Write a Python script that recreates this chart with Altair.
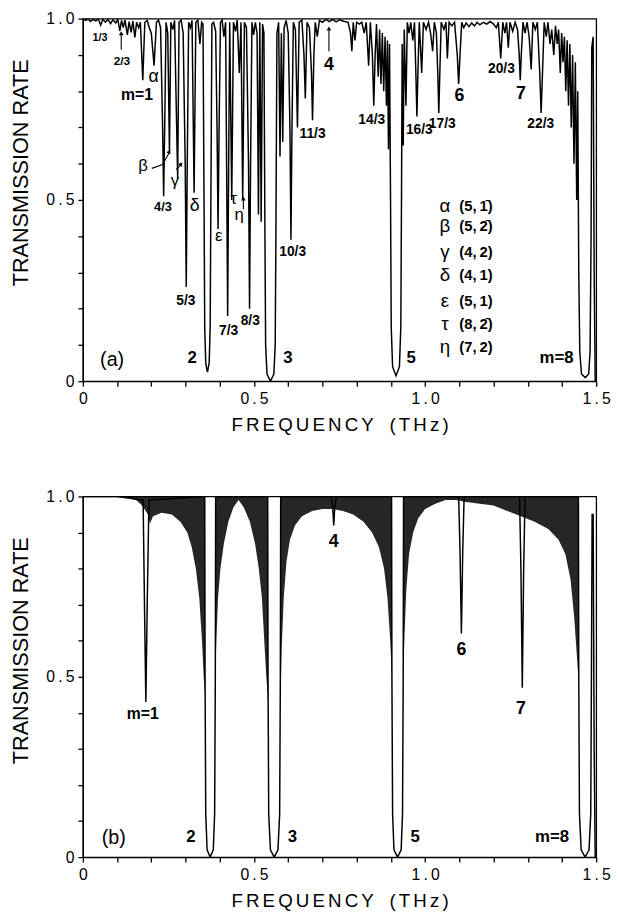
import altair as alt
import pandas as pd

# ---------------- panel (a): transmission spectrum (frequency THz, rate) -------------
fa = [0.000, 0.008, 0.015, 0.022, 0.030, 0.038, 0.045, 0.052, 0.058, 0.066, 0.073, 0.081, 0.088, 0.096,
      0.102, 0.108, 0.113, 0.118, 0.123, 0.130, 0.135, 0.141, 0.146, 0.152, 0.157, 0.163, 0.168, 0.175,
      0.181, 0.188, 0.194, 0.200, 0.208, 0.215, 0.221, 0.227, 0.233, 0.236, 0.239, 0.243, 0.248, 0.253,
      0.257, 0.263, 0.268, 0.274, 0.277, 0.281, 0.287, 0.293, 0.299, 0.302, 0.305, 0.309, 0.314, 0.319,
      0.325, 0.330, 0.336, 0.342, 0.347, 0.351, 0.354, 0.356, 0.359, 0.364, 0.369, 0.372, 0.374, 0.377,
      0.382, 0.388, 0.392, 0.395, 0.398, 0.402, 0.407, 0.412, 0.417, 0.420, 0.423, 0.426, 0.429, 0.435,
      0.440, 0.446, 0.451, 0.457, 0.462, 0.467, 0.472, 0.478, 0.484, 0.487, 0.490, 0.494, 0.499, 0.504,
      0.509, 0.513, 0.517, 0.521, 0.525, 0.529, 0.532, 0.534, 0.538, 0.548, 0.558, 0.562, 0.564, 0.567,
      0.572, 0.576, 0.580, 0.584, 0.588, 0.594, 0.600, 0.605, 0.608, 0.611, 0.615, 0.621, 0.627, 0.632,
      0.640, 0.646, 0.650, 0.655, 0.662, 0.668, 0.671, 0.675, 0.679, 0.685, 0.691, 0.700, 0.710, 0.720,
      0.730, 0.740, 0.750, 0.762, 0.775, 0.782, 0.786, 0.790, 0.795, 0.800, 0.808, 0.815, 0.822, 0.828,
      0.835, 0.840, 0.846, 0.850, 0.854, 0.858, 0.863, 0.867, 0.871, 0.875, 0.879, 0.883, 0.887, 0.890,
      0.893, 0.896, 0.899, 0.901, 0.905, 0.915, 0.925, 0.929, 0.931, 0.933, 0.936, 0.939, 0.944, 0.948,
      0.953, 0.958, 0.964, 0.969, 0.973, 0.976, 0.979, 0.983, 0.990, 0.995, 1.003, 1.010, 1.016, 1.022,
      1.027, 1.033, 1.037, 1.040, 1.043, 1.047, 1.055, 1.061, 1.065, 1.070, 1.078, 1.086, 1.094, 1.098,
      1.102, 1.107, 1.113, 1.120, 1.128, 1.136, 1.144, 1.152, 1.160, 1.170, 1.180, 1.190, 1.200, 1.208,
      1.214, 1.221, 1.227, 1.233, 1.238, 1.243, 1.248, 1.256, 1.263, 1.270, 1.275, 1.278, 1.281, 1.286,
      1.292, 1.298, 1.304, 1.310, 1.315, 1.322, 1.328, 1.335, 1.339, 1.343, 1.348, 1.354, 1.359, 1.365,
      1.370, 1.376, 1.381, 1.386, 1.390, 1.395, 1.399, 1.403, 1.407, 1.411, 1.415, 1.419, 1.423, 1.427,
      1.431, 1.435, 1.439, 1.443, 1.446, 1.449, 1.452, 1.457, 1.468, 1.478, 1.482, 1.485, 1.487, 1.491,
      1.494, 1.497, 1.500]
ta = [1.000, 0.995, 0.999, 0.992, 0.998, 0.994, 0.999, 0.982, 0.998, 0.990, 0.998, 0.986, 0.997, 0.988,
      0.998, 0.966, 0.995, 0.975, 0.996, 0.955, 0.992, 0.962, 0.993, 0.948, 0.990, 0.975, 0.990, 0.830,
      0.990, 0.995, 0.975, 0.960, 0.870, 0.990, 0.996, 0.975, 0.700, 0.510, 0.700, 0.990, 0.960, 0.630,
      0.990, 0.970, 0.995, 0.700, 0.560, 0.990, 0.996, 0.960, 0.600, 0.260, 0.600, 0.990, 0.975, 0.995,
      0.520, 0.990, 0.996, 0.930, 0.990, 0.985, 0.500, 0.150, 0.050, 0.025, 0.050, 0.150, 0.500, 0.985,
      0.990, 0.965, 0.700, 0.420, 0.700, 0.990, 0.996, 0.950, 0.990, 0.600, 0.180, 0.600, 0.990, 0.500,
      0.990, 0.965, 0.996, 0.850, 0.990, 0.500, 0.990, 0.975, 0.600, 0.200, 0.600, 0.990, 0.955, 0.990,
      0.960, 0.460, 0.990, 0.440, 0.985, 0.960, 0.400, 0.100, 0.020, 0.000, 0.020, 0.100, 0.400, 0.960,
      0.990, 0.620, 0.960, 0.660, 0.975, 0.995, 0.960, 0.700, 0.390, 0.700, 0.990, 0.970, 0.700, 0.990,
      0.996, 0.900, 0.780, 0.990, 0.975, 0.850, 0.720, 0.900, 0.990, 0.950, 0.995, 0.990, 0.998, 0.992,
      0.998, 0.991, 0.997, 0.993, 0.990, 0.960, 0.910, 0.990, 0.940, 0.990, 0.985, 0.990, 0.960, 0.990,
      0.870, 0.990, 0.900, 0.760, 0.900, 0.985, 0.840, 0.970, 0.820, 0.960, 0.800, 0.950, 0.760, 0.940,
      0.640, 0.930, 0.500, 0.150, 0.040, 0.015, 0.040, 0.150, 0.500, 0.930, 0.650, 0.970, 0.760, 0.990,
      0.960, 0.990, 0.940, 0.990, 0.850, 0.730, 0.850, 0.990, 0.850, 0.990, 0.970, 0.990, 0.960, 0.910,
      0.990, 0.960, 0.850, 0.740, 0.850, 0.990, 0.970, 0.990, 0.890, 0.990, 0.980, 0.990, 0.900, 0.820,
      0.900, 0.990, 0.975, 0.988, 0.978, 0.988, 0.980, 0.990, 0.983, 0.990, 0.985, 0.992, 0.985, 0.975,
      0.990, 0.890, 0.990, 0.960, 0.990, 0.920, 0.990, 0.965, 0.990, 0.970, 0.900, 0.830, 0.900, 0.990,
      0.960, 0.990, 0.950, 0.860, 0.990, 0.970, 0.990, 0.850, 0.740, 0.850, 0.990, 0.950, 0.990, 0.930,
      0.970, 0.900, 0.980, 0.930, 0.970, 0.850, 0.960, 0.880, 0.950, 0.800, 0.940, 0.760, 0.930, 0.700,
      0.900, 0.600, 0.880, 0.500, 0.800, 0.300, 0.080, 0.020, 0.010, 0.020, 0.080, 0.400, 0.920, 0.950,
      0.300, 0.000, 0.000]

# ---------------- panel (b): main line -------------
fb = [0.000, 0.100, 0.176, 0.180, 0.184, 0.188, 0.193,
      0.356, 0.357, 0.359, 0.363, 0.372, 0.381, 0.385, 0.387, 0.388,
      0.540, 0.541, 0.543, 0.548, 0.559, 0.570, 0.575, 0.577, 0.578,
      0.725, 0.730, 0.733, 0.736, 0.741,
      0.902, 0.903, 0.905, 0.909, 0.9195, 0.930, 0.934, 0.936, 0.937,
      1.098, 1.102, 1.106, 1.110, 1.114,
      1.276, 1.280, 1.284, 1.288, 1.292,
      1.448, 1.449, 1.451, 1.456, 1.4675, 1.479, 1.484, 1.486, 1.488, 1.491, 1.494, 1.497, 1.500]
tb = [1.000, 1.000, 0.990, 0.700, 0.430, 0.700, 0.990,
      1.000, 0.500, 0.120, 0.020, 0.000, 0.020, 0.120, 0.500, 1.000,
      1.000, 0.500, 0.120, 0.020, 0.000, 0.020, 0.120, 0.500, 1.000,
      1.000, 0.970, 0.920, 0.970, 1.000,
      1.000, 0.500, 0.120, 0.020, 0.000, 0.020, 0.120, 0.500, 1.000,
      1.000, 0.850, 0.620, 0.850, 1.000,
      1.000, 0.800, 0.470, 0.800, 1.000,
      1.000, 0.500, 0.120, 0.020, 0.000, 0.020, 0.120, 0.500, 0.950, 0.950, 0.300, 0.000, 0.000]

# panel (b): lower envelope of the dense fringe comb, per band segment
comb_seg = [1] * 18 + [2] * 16 + [3] * 19 + [4] * 23
comb_f = [0.100, 0.130, 0.155, 0.170, 0.180, 0.190, 0.196, 0.205, 0.230, 0.260, 0.285, 0.305, 0.318,
          0.330, 0.340, 0.348, 0.353, 0.357,
          0.387, 0.390, 0.395, 0.402, 0.412, 0.425, 0.440, 0.455, 0.470, 0.488, 0.503, 0.514, 0.523,
          0.530, 0.536, 0.541,
          0.577, 0.581, 0.587, 0.595, 0.605, 0.620, 0.640, 0.670, 0.700, 0.730, 0.760, 0.790, 0.820,
          0.845, 0.865, 0.880, 0.890, 0.898, 0.903,
          0.936, 0.940, 0.945, 0.953, 0.965, 0.980, 1.000, 1.030, 1.060, 1.090, 1.120, 1.160, 1.200,
          1.240, 1.280, 1.320, 1.360, 1.390, 1.410, 1.425, 1.436, 1.444, 1.449]
comb_lo = [1.000, 0.996, 0.990, 0.978, 0.965, 0.950, 0.925, 0.945, 0.955, 0.950, 0.930, 0.900, 0.860,
           0.800, 0.720, 0.600, 0.500, 0.450,
           0.500, 0.600, 0.720, 0.800, 0.870, 0.930, 0.970, 0.990, 0.970, 0.930, 0.870, 0.800, 0.720,
           0.600, 0.500, 0.430,
           0.420, 0.580, 0.720, 0.820, 0.880, 0.920, 0.945, 0.960, 0.965, 0.965, 0.960, 0.950, 0.930,
           0.900, 0.860, 0.800, 0.720, 0.600, 0.500,
           0.500, 0.620, 0.740, 0.840, 0.900, 0.940, 0.965, 0.980, 0.990, 0.990, 0.985, 0.980, 0.975,
           0.960, 0.945, 0.930, 0.910, 0.880, 0.840, 0.770, 0.660, 0.550, 0.480]

# ---------------- annotations -------------
a_lab_text = ["1/3", "2/3", "m=1", "α", "β", "γ", "4/3", "δ", "5/3", "2", "ε", "τ", "η", "7/3", "8/3",
              "3", "10/3", "11/3", "4", "14/3", "16/3", "17/3", "6", "20/3", "7", "22/3", "5", "m=8", "(a)"]
a_lab_f = [0.050, 0.114, 0.158, 0.207, 0.176, 0.269, 0.234, 0.327, 0.301, 0.319, 0.397, 0.4405, 0.457,
           0.426, 0.489, 0.599, 0.613, 0.671, 0.719, 0.844, 0.983, 1.050, 1.100, 1.223, 1.280, 1.338,
           0.959, 1.384, 0.0855]
a_lab_t = [0.946, 0.882, 0.788, 0.840, 0.592, 0.552, 0.479, 0.484, 0.221, 0.0625, 0.400, 0.503, 0.457,
           0.139, 0.167, 0.0625, 0.357, 0.683, 0.873, 0.719, 0.692, 0.710, 0.787, 0.860, 0.792, 0.710,
           0.0625, 0.0625, 0.058]
a_lab_size = [11, 12, 16, 18, 17, 17, 13, 18, 14, 17, 17, 17, 17, 14, 14, 17, 14, 14, 18, 14, 14, 14,
              18, 14, 18, 14, 17, 17, 20]
a_lab_bold = [1, 1, 1, 0, 0, 0, 1, 0, 1, 1, 0, 0, 0, 1, 1, 1, 1, 1, 1, 1, 1, 1, 1, 1, 1, 1, 1, 1, 0]

leg_greek = ["α", "β", "γ", "δ", "ε", "τ", "η"]
leg_pair = ["(5,\u20091\u0304)", "(5,\u20092\u0304)", "(4,\u20092)", "(4,\u20091)", "(5,\u20091)",
            "(8,\u20092\u0304)", "(7,\u20092)"]
leg_t = [0.484, 0.429, 0.357, 0.293, 0.221, 0.158, 0.094]
leg_greek_f = 1.058
leg_pair_f = 1.100

# arrows in panel (a): segments and heads
arr_f1 = [0.112, 0.719, 0.469, 0.273, 0.2016, 0.233]
arr_t1 = [0.914, 0.910, 0.474, 0.584, 0.587, 0.598]
arr_f2 = [0.112, 0.719, 0.469, 0.286, 0.233, 0.251]
arr_t2 = [0.955, 0.968, 0.500, 0.597, 0.598, 0.628]
head_f = [0.112, 0.719, 0.469, 0.287, 0.2525]
head_t = [0.960, 0.973, 0.504, 0.599, 0.633]
head_ang = [0, 0, 0, 40, 30]

b_lab_text = ["m=1", "2", "3", "4", "5", "6", "7", "m=8", "(b)"]
b_lab_f = [0.175, 0.316, 0.612, 0.733, 0.971, 1.106, 1.280, 1.371, 0.090]
b_lab_t = [0.396, 0.055, 0.055, 0.875, 0.055, 0.575, 0.410, 0.055, 0.052]
b_lab_size = [16, 17, 17, 18, 17, 18, 18, 17, 20]
b_lab_bold = [1, 1, 1, 1, 1, 1, 1, 1, 0]

x_ticks = [round(i * 0.1, 1) for i in range(16)]
y_ticks = [round(i * 0.1, 1) for i in range(11)]

FONT = "Liberation Sans"
TS = "\u2009"

x_label_expr = ("datum.value == 0 ? '0' : datum.value == 0.5 ? '0" + TS + "." + TS + "5' : "
                "datum.value == 1 ? '1" + TS + "." + TS + "0' : datum.value == 1.5 ? '1" + TS + "." + TS + "5' : ''")
y_label_expr = ("datum.value == 0 ? '0' : datum.value == 0.5 ? '0" + TS + "." + TS + "5' : "
                "datum.value == 1 ? '1" + TS + "." + TS + "0' : ''")

SP = "\u2006"
x_title = SP.join("FREQUENCY") + "\u00a0\u00a0\u00a0" + SP.join("(THz)")
y_title = "TRANSMISSION RATE"

xscale = alt.Scale(domain=[0, 1.5], nice=False, zero=False)
yscale = alt.Scale(domain=[0, 1.0], nice=False, zero=False)

xaxis = alt.Axis(values=x_ticks, labelExpr=x_label_expr, title=x_title, grid=False,
                 labelFlush=False, labelOverlap=False, tickSize=5, labelPadding=5,
                 labelFontSize=16, titleFontSize=19, titlePadding=9)
yaxis = alt.Axis(values=y_ticks, labelExpr=y_label_expr, title=y_title, grid=False,
                 labelFlush=False, labelOverlap=False, tickSize=5, labelPadding=4,
                 labelFontSize=16, titleFontSize=22, titlePadding=14, titleY=156)


def X(field):
    return alt.X(field, type="quantitative", scale=xscale, axis=xaxis)


def Y(field):
    return alt.Y(field, type="quantitative", scale=yscale, axis=yaxis)


def text_layers(df):
    layers = []
    for bold in (1, 0):
        sub = df[df["bold"] == bold]
        if len(sub) == 0:
            continue
        layers.append(
            alt.Chart(sub).mark_text(font=FONT, fontWeight="bold" if bold else "normal",
                                     color="black", baseline="middle", align="center")
            .encode(x=X("f"), y=Y("t"), text="txt:N", size=alt.Size("s:Q", scale=None))
        )
    return layers


# ----- panel (a) -----
df_a = pd.DataFrame({"f": fa, "t": ta, "i": range(len(fa))})
line_a = alt.Chart(df_a).mark_line(color="black", strokeWidth=1.5, clip=True).encode(
    x=X("f"), y=Y("t"), order="i:Q")

df_alab = pd.DataFrame({"f": a_lab_f, "t": a_lab_t, "txt": a_lab_text, "s": a_lab_size, "bold": a_lab_bold})

df_leg_g = pd.DataFrame({"f": [leg_greek_f] * len(leg_greek), "t": leg_t, "txt": leg_greek})
df_leg_p = pd.DataFrame({"f": [leg_pair_f] * len(leg_pair), "t": leg_t, "txt": leg_pair})
leg_g = alt.Chart(df_leg_g).mark_text(font=FONT, fontSize=19, color="black", align="center",
                                      baseline="middle").encode(x=X("f"), y=Y("t"), text="txt:N")
leg_p = alt.Chart(df_leg_p).mark_text(font=FONT, fontSize=15, fontWeight="bold", color="black",
                                      align="left", baseline="middle").encode(x=X("f"), y=Y("t"), text="txt:N")

df_arr = pd.DataFrame({"f": arr_f1, "t": arr_t1, "f2": arr_f2, "t2": arr_t2})
arrows = alt.Chart(df_arr).mark_rule(color="black", strokeWidth=1.1).encode(
    x=X("f"), x2="f2", y=Y("t"), y2="t2")
df_head = pd.DataFrame({"f": head_f, "t": head_t, "a": head_ang})
heads = alt.Chart(df_head).mark_point(shape="triangle-up", filled=True, color="black", size=22,
                                      opacity=1).encode(x=X("f"), y=Y("t"), angle=alt.Angle("a:Q", scale=None))

panel_a = alt.layer(line_a, *text_layers(df_alab), leg_g, leg_p, arrows, heads).properties(
    width=521, height=368)

# ----- panel (b) -----
df_comb = pd.DataFrame({"f": comb_f, "t": comb_lo, "hi": [1.0] * len(comb_f), "seg": comb_seg})
comb = alt.Chart(df_comb).mark_area(color="black", opacity=0.85, clip=True).encode(
    x=X("f"), y=Y("t"), y2="hi", detail="seg:N")
df_b = pd.DataFrame({"f": fb, "t": tb, "i": range(len(fb))})
line_b = alt.Chart(df_b).mark_line(color="black", strokeWidth=1.5, clip=True).encode(
    x=X("f"), y=Y("t"), order="i:Q")
df_blab = pd.DataFrame({"f": b_lab_f, "t": b_lab_t, "txt": b_lab_text, "s": b_lab_size, "bold": b_lab_bold})

panel_b = alt.layer(comb, line_b, *text_layers(df_blab)).properties(width=521, height=366)

chart = (
    alt.vconcat(panel_a, panel_b, spacing=53)
    .properties(padding={"left": 0, "top": -5, "right": 0, "bottom": 0})
    .configure_view(stroke="black", strokeWidth=1.3)
    .configure_axis(domainColor="black", domainWidth=1.3, tickColor="black", tickWidth=1.3,
                    labelFont=FONT, labelColor="black", titleFont=FONT, titleColor="black",
                    titleFontWeight="normal")
)

chart.save("out.html", embed_options={"renderer": "svg", "actions": False})
